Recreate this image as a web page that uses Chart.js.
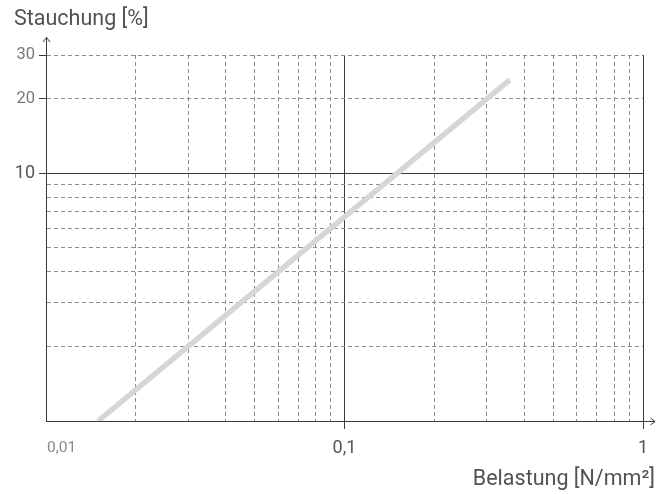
<!DOCTYPE html>
<html>
<head>
<meta charset="utf-8">
<script src="https://cdn.jsdelivr.net/npm/chart.js@4/dist/chart.umd.min.js"></script>
<style>
  html, body { margin: 0; padding: 0; background: #fff; }
  #wrap { width: 672px; height: 494px; }
</style>
</head>
<body>
<div id="wrap"><canvas id="c" width="672" height="494"></canvas></div>
<script>
// Compression vs. load (log-log)
const loadValues = [0.01494, 0.358];      // Belastung [N/mm²]
const strainValues = [1, 23.8];           // Stauchung [%]

const xGridValues = [0.01, 0.02, 0.03, 0.04, 0.05, 0.06, 0.07, 0.08, 0.09,
                     0.1, 0.2, 0.3, 0.4, 0.5, 0.6, 0.7, 0.8, 0.9, 1];
const yGridValues = [1, 2, 3, 4, 5, 6, 7, 8, 9, 10, 20, 30];

const xTickLabels = { 0.01: '0,01', 0.1: '0,1', 1: '1' };
const yTickLabels = { 10: '10', 20: '20', 30: '30' };
const xMajor = [0.1, 1];
const yMajor = [10];

const FONT = 'Roboto, "DejaVu Sans", sans-serif';
const AXIS = '#3a3a3a';
const DASH = '#8c8c8c';

function isMajor(list, v) { return list.some(m => Math.abs(m - v) < 1e-9); }

const axisDecor = {
  id: 'axisDecor',
  afterDraw(chart) {
    const { ctx, chartArea: a, scales } = chart;
    ctx.save();
    ctx.strokeStyle = AXIS;
    ctx.lineWidth = 1;
    // y axis extension with arrow head
    const yx = Math.round(a.left) + 0.5;
    ctx.beginPath();
    ctx.moveTo(yx, a.top);
    ctx.lineTo(yx, 37);
    ctx.moveTo(yx - 3.5, 42);
    ctx.lineTo(yx, 37.5);
    ctx.lineTo(yx + 3.5, 42);
    ctx.stroke();
    // x axis extension with arrow head
    const xy = Math.round(a.bottom) + 0.5;
    ctx.beginPath();
    ctx.moveTo(a.right, xy);
    ctx.lineTo(655, xy);
    ctx.moveTo(650.5, xy - 3.5);
    ctx.lineTo(655, xy);
    ctx.lineTo(650.5, xy + 3.5);
    ctx.stroke();

    // x tick labels
    const xs = scales.x;
    ctx.textBaseline = 'alphabetic';
    Object.keys(xTickLabels).forEach(k => {
      const v = parseFloat(k);
      const px = xs.getPixelForValue(v);
      if (isMajor(xMajor, v)) {
        ctx.font = '18px ' + FONT;
        ctx.fillStyle = '#555';
        ctx.textAlign = 'center';
        ctx.fillText(xTickLabels[k], px, 453);
      } else {
        ctx.font = '15.5px ' + FONT;
        ctx.fillStyle = '#8a8a8a';
        ctx.textAlign = 'left';
        ctx.fillText(xTickLabels[k], px + 1, 452);
      }
    });

    // axis titles
    ctx.fillStyle = '#525252';
    ctx.font = '21.5px ' + FONT;
    ctx.textAlign = 'left';
    ctx.fillText('Stauchung [%]', 14, 25);
    ctx.textAlign = 'right';
    ctx.fillText('Belastung [N/mm²]', 655, 485);
    ctx.restore();
  }
};

new Chart(document.getElementById('c'), {
  type: 'line',
  data: {
    datasets: [{
      data: loadValues.map((x, i) => ({ x: x, y: strainValues[i] })),
      borderColor: '#d6d6d6',
      borderWidth: 5.5,
      borderCapStyle: 'butt',
      pointRadius: 0,
      fill: false,
      tension: 0
    }]
  },
  options: {
    responsive: false,
    animation: false,
    events: [],
    layout: { padding: { left: 0, top: 55, right: 29, bottom: 0 } },
    plugins: { legend: { display: false }, tooltip: { enabled: false }, title: { display: false } },
    scales: {
      x: {
        type: 'logarithmic',
        min: 0.01, max: 1,
        afterBuildTicks: s => { s.ticks = xGridValues.map(v => ({ value: v, major: isMajor(xMajor, v) })); },
        afterFit: s => { s.height = 73; },
        ticks: { display: false, autoSkip: false, maxRotation: 0 },
        grid: {
          color: c => (c.tick && Math.abs(c.tick.value - 0.01) < 1e-9) ? 'rgba(0,0,0,0)' : (c.tick && isMajor(xMajor, c.tick.value) ? AXIS : DASH),
          lineWidth: 1,
          drawTicks: true,
          tickLength: 8,
          tickColor: c => (c.tick && isMajor(xMajor, c.tick.value)) ? AXIS : 'rgba(0,0,0,0)'
        },
        border: {
          display: true, color: AXIS, width: 1,
          dash: c => (c.tick && isMajor(xMajor, c.tick.value)) ? [] : [4, 3]
        }
      },
      y: {
        type: 'logarithmic',
        min: 1, max: 30,
        afterBuildTicks: s => { s.ticks = yGridValues.map(v => ({ value: v, major: isMajor(yMajor, v) })); },
        afterFit: s => { s.width = 46; },
        ticks: {
          autoSkip: false,
          padding: 4,
          callback: v => yTickLabels[v] || '',
          color: c => (c.tick && isMajor(yMajor, c.tick.value)) ? '#555' : '#7a7a7a',
          font: c => ({ family: FONT, size: (c.tick && isMajor(yMajor, c.tick.value)) ? 18 : 16.5 })
        },
        grid: {
          color: c => (c.tick && c.tick.value === 1) ? 'rgba(0,0,0,0)' : (c.tick && isMajor(yMajor, c.tick.value) ? AXIS : DASH),
          lineWidth: 1,
          drawTicks: true,
          tickLength: 7,
          tickColor: c => (c.tick && yTickLabels[c.tick.value]) ? AXIS : 'rgba(0,0,0,0)'
        },
        border: {
          display: true, color: AXIS, width: 1,
          dash: c => (c.tick && isMajor(yMajor, c.tick.value)) ? [] : [4, 3]
        }
      }
    }
  },
  plugins: [axisDecor]
});
</script>
</body>
</html>
